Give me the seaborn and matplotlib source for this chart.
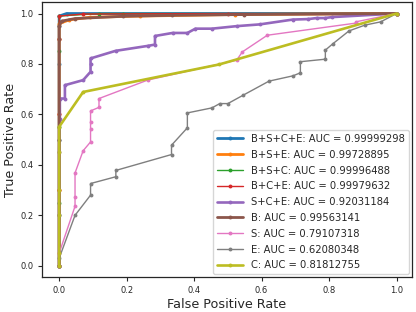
import numpy as np
import pandas as pd
import matplotlib
matplotlib.use("Agg")
import matplotlib.pyplot as plt
import seaborn as sns

sns.set_style("ticks")

names = ["B+S+C+E", "B+S+E", "B+S+C", "B+C+E", "S+C+E", "B", "S", "E", "C"]
aucs = ["0.99999298", "0.99728895", "0.99996488", "0.99979632", "0.92031184",
        "0.99563141", "0.79107318", "0.62080348", "0.81812755"]
colors = ["#1f77b4", "#ff7f0e", "#2ca02c", "#d62728", "#9467bd",
          "#8c564b", "#e377c2", "#7f7f7f", "#bcbd22"]
widths = [2.0, 2.0, 1.0, 1.0, 1.9, 2.0, 1.0, 1.0, 1.9]

fpr_bscE = [0, 0, 0, 0, 0, 0, 0.022, 1]
tpr_bscE = [0, 0.2, 0.5, 0.8, 0.95, 0.99, 1.0, 1]

fpr_bsE = [0, 0, 0, 0, 0, 0.03, 0.09, 0.24, 0.52, 1]
tpr_bsE = [0, 0.3, 0.6, 0.9, 0.96, 0.975, 0.985, 0.99, 0.996, 1]

fpr_bsc = [0, 0, 0, 0, 0, 0.118, 0.188, 1]
tpr_bsc = [0, 0.25, 0.55, 0.85, 0.99, 1.0, 1.0, 1]

fpr_bcE = [0, 0, 0, 0, 0, 0.071, 0.5, 1]
tpr_bcE = [0, 0.3, 0.6, 0.9, 0.99, 0.998, 1.0, 1]

fpr_scE = [0, 0, 0, 0.002, 0.002, 0.017, 0.017, 0.071, 0.093, 0.093, 0.093,
           0.167, 0.264, 0.284, 0.284, 0.336, 0.38, 0.404, 0.453, 0.526,
           0.595, 0.692, 0.738, 0.763, 0.787, 0.81, 1]
tpr_scE = [0, 0.2, 0.45, 0.58, 0.663, 0.663, 0.716, 0.736, 0.769, 0.8, 0.822,
           0.852, 0.872, 0.877, 0.911, 0.923, 0.923, 0.94, 0.94, 0.95,
           0.957, 0.976, 0.978, 0.982, 0.982, 0.986, 1]

fpr_b = [0, 0, 0, 0, 0.007, 0.047, 0.188, 0.333, 0.547, 1]
tpr_b = [0, 0.5, 0.9, 0.95, 0.97, 0.98, 0.989, 0.993, 0.996, 1]

fpr_s = [0, 0, 0.047, 0.047, 0.047, 0.071, 0.093, 0.093, 0.093, 0.093,
         0.118, 0.118, 0.262, 0.526, 0.543, 0.617, 0.879, 0.879, 1]
tpr_s = [0, 0.05, 0.236, 0.273, 0.368, 0.456, 0.491, 0.544, 0.568, 0.614,
         0.628, 0.663, 0.736, 0.815, 0.848, 0.914, 0.962, 0.967, 1]

fpr_e = [0, 0, 0.047, 0.093, 0.093, 0.168, 0.168, 0.333, 0.333, 0.38, 0.38,
         0.453, 0.476, 0.5, 0.545, 0.622, 0.693, 0.715, 0.715, 0.789, 0.789,
         0.812, 0.859, 0.906, 0.953, 1]
tpr_e = [0, 0.03, 0.2, 0.28, 0.326, 0.353, 0.378, 0.441, 0.478, 0.547, 0.606,
         0.626, 0.643, 0.643, 0.676, 0.732, 0.753, 0.765, 0.809, 0.819, 0.855,
         0.881, 0.931, 0.954, 0.967, 1]

fpr_c = [0, 0, 0, 0, 0, 0, 0.071, 0.474, 1]
tpr_c = [0, 0.05, 0.2, 0.3, 0.45, 0.551, 0.689, 0.798, 1]

fprs = [fpr_bscE, fpr_bsE, fpr_bsc, fpr_bcE, fpr_scE, fpr_b, fpr_s, fpr_e, fpr_c]
tprs = [tpr_bscE, tpr_bsE, tpr_bsc, tpr_bcE, tpr_scE, tpr_b, tpr_s, tpr_e, tpr_c]

fig = plt.figure(figsize=(4.16, 3.12), dpi=100)
ax = fig.add_axes([0.1017, 0.111, 0.888, 0.882])

for name, auc, col, lw, fx, ty in zip(names, aucs, colors, widths, fprs, tprs):
    df = pd.DataFrame({"fpr": fx, "tpr": ty})
    sns.lineplot(data=df, x="fpr", y="tpr", sort=False, estimator=None,
                 color=col, lw=lw, marker="o", markersize=2.8,
                 markeredgewidth=0, label=f"{name}: AUC = {auc}", ax=ax)

ax.set_xlim(-0.05, 1.045)
ax.set_ylim(-0.046, 1.045)
ax.set_xticks([0, 0.2, 0.4, 0.6, 0.8, 1.0])
ax.set_yticks([0, 0.2, 0.4, 0.6, 0.8, 1.0])
ax.tick_params(labelsize=6, length=3, width=0.8)
ax.set_xlabel("False Positive Rate", fontsize=9.2, labelpad=2)
ax.set_ylabel("True Positive Rate", fontsize=9.2, labelpad=2)
for s in ax.spines.values():
    s.set_linewidth(0.9)
ax.legend(loc="lower right", fontsize=7.2, labelspacing=0.58,
          handlelength=2.6, handletextpad=0.8, borderaxespad=0.3,
          frameon=True)

fig.savefig("out.png", dpi=100)
